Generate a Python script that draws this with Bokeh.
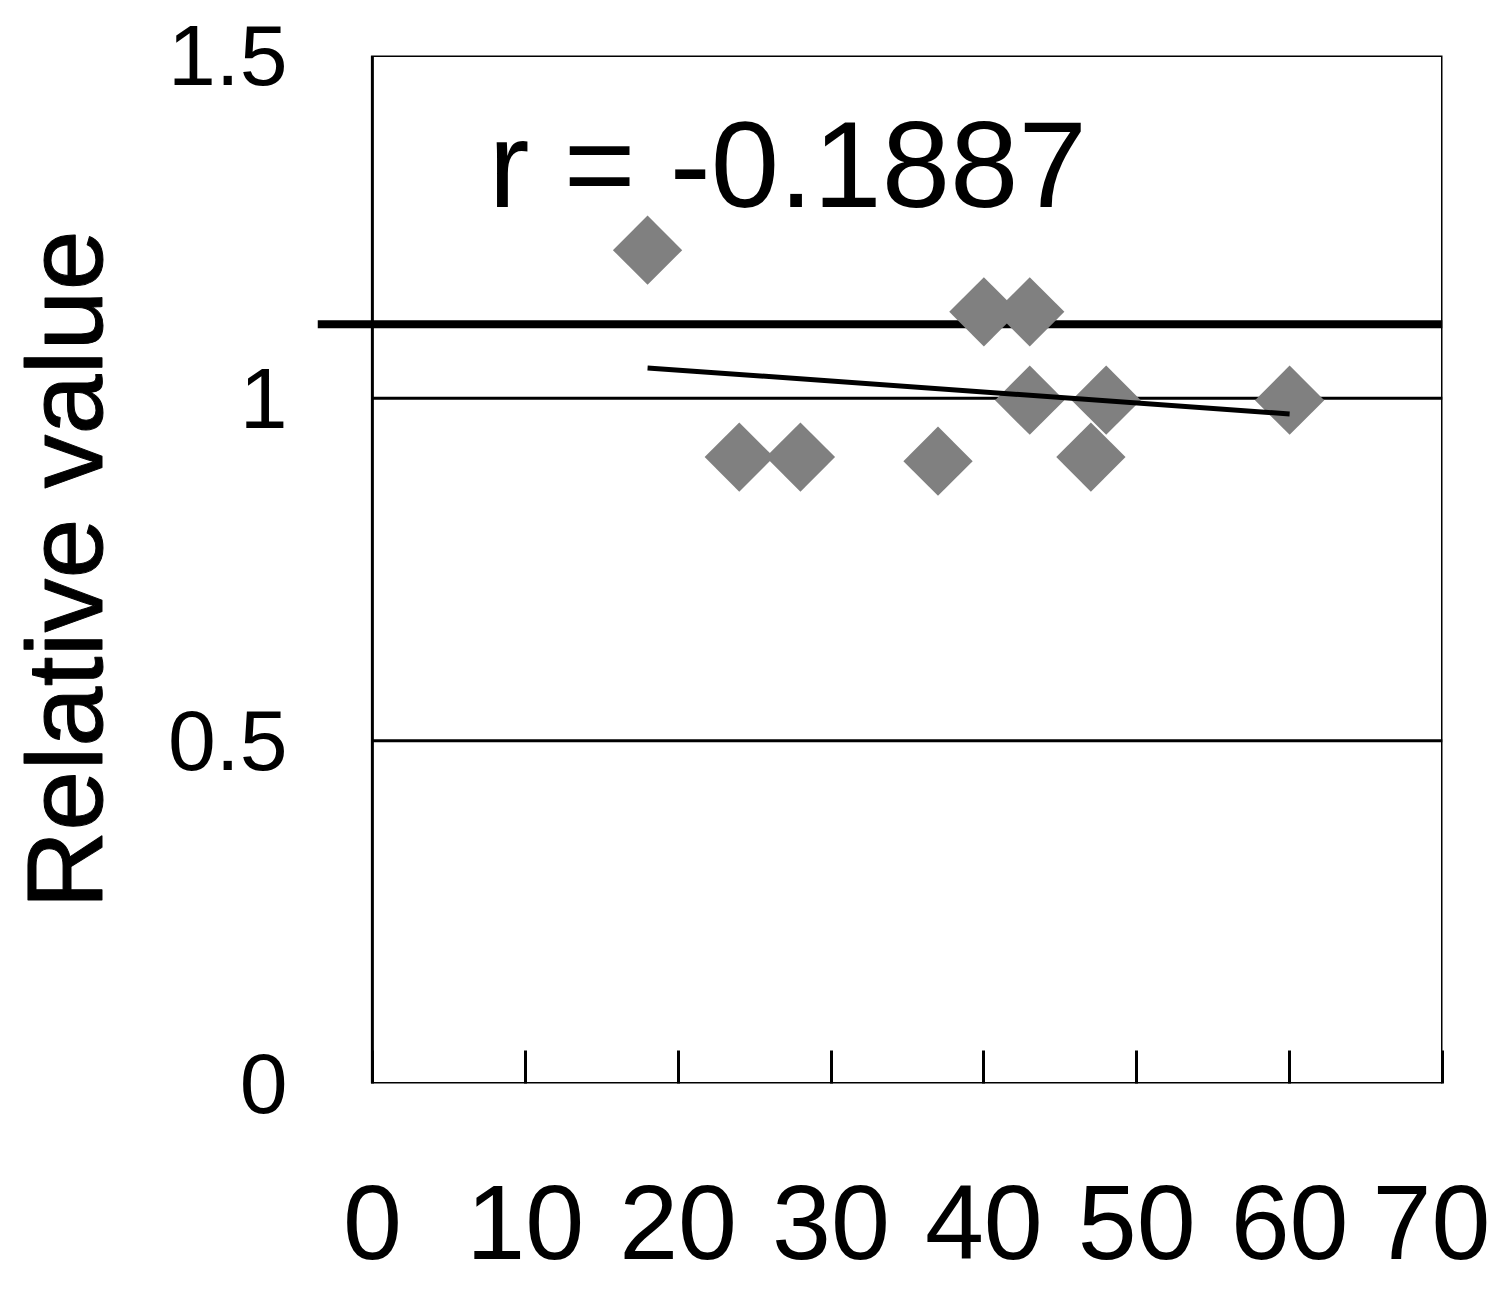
from bokeh.plotting import figure
from bokeh.models import Range1d, FixedTicker, ColumnDataSource
from bokeh.core.properties import value
from bokeh.embed import file_html
from bokeh.resources import INLINE
import numpy as np

# ---- data ----
age = [18, 24, 28, 37, 40, 43, 43, 48, 47, 60]
relative_value = [1.216, 0.914, 0.914, 0.908, 1.126, 1.126, 0.997, 0.997, 0.914, 0.997]
reference_level = 1.108
grid_levels = [0.5, 1.0]
x_ticks = [0, 10, 20, 30, 40, 50, 60, 70]
x_tick_labels = ["0", "10", "20", "30", "40", "50", "60", "70"]
y_ticks = [0, 0.5, 1, 1.5]
y_tick_labels = ["0", "0.5", "1", "1.5"]
r_text = "r = -0.1887"
y_title = "Relative value"

X_MIN, X_MAX = 0, 70
Y_MIN, Y_MAX = 0, 1.5
X_START = -3.59  # frame extends a little left of the box

p = figure(width=1490, height=1300, output_backend="svg", toolbar_location=None,
           x_range=Range1d(X_START, X_MAX), y_range=Range1d(Y_MIN, Y_MAX),
           min_border_left=315, min_border_right=48, min_border_top=55, min_border_bottom=217)
p.outline_line_color = None
p.background_fill_color = "white"
p.border_fill_color = "white"
p.xgrid.visible = False
p.ygrid.visible = False

# frame box
p.quad(left=[X_MIN], right=[X_MAX], bottom=[Y_MIN], top=[Y_MAX],
       fill_color=None, line_color="black", line_width=3)

# horizontal grid lines inside the box
p.segment(x0=[X_MIN] * len(grid_levels), x1=[X_MAX] * len(grid_levels),
          y0=grid_levels, y1=grid_levels, line_color="black", line_width=3)

# thick reference line (runs slightly past the left edge of the box)
p.segment(x0=[X_START], x1=[X_MAX], y0=[reference_level], y1=[reference_level],
          line_color="black", line_width=8)

# points
src = ColumnDataSource(dict(x=age, y=relative_value))
p.scatter("x", "y", source=src, marker="square", angle=np.pi / 4, size=49,
          fill_color="#808080", line_color=None)

# linear trend
slope, intercept = np.polyfit(age, relative_value, 1)
tx = np.array([min(age), max(age)])
p.line(tx, slope * tx + intercept, line_color="black", line_width=5)

# r label
p.text(x=[7.6], y=[1.341], text=[r_text], text_font=value("Liberation Sans"),
       text_font_size="123px", text_color="black", text_baseline="alphabetic")

# x axis
xa = p.xaxis[0]
xa.ticker = FixedTicker(ticks=x_ticks)
xa.major_label_overrides = {t: l for t, l in zip(x_ticks, x_tick_labels)}
xa.axis_line_color = None
xa.major_tick_in = 33
xa.major_tick_out = 0
xa.major_tick_line_width = 3
xa.major_tick_line_color = "black"
xa.minor_tick_line_color = None
xa.major_label_standoff = 102
xa.major_label_text_font = "Liberation Sans"
xa.major_label_text_font_size = "106px"
xa.major_label_text_color = "black"

# y axis
ya = p.yaxis[0]
ya.ticker = FixedTicker(ticks=y_ticks)
ya.major_label_overrides = {t: l for t, l in zip(y_ticks, y_tick_labels)}
ya.axis_line_color = None
ya.major_tick_in = 0
ya.major_tick_out = 0
ya.minor_tick_line_color = None
ya.major_label_standoff = 30
ya.major_label_text_font = "Liberation Sans"
ya.major_label_text_font_size = "86px"
ya.major_label_text_color = "black"
ya.axis_label = y_title
ya.axis_label_text_font = "Liberation Sans"
ya.axis_label_text_font_size = "108px"
ya.axis_label_text_font_style = "normal"
ya.axis_label_text_color = "black"
ya.axis_label_text_outline_color = "black"
ya.axis_label_standoff = 40

open("out.html", "w").write(file_html(p, INLINE))
